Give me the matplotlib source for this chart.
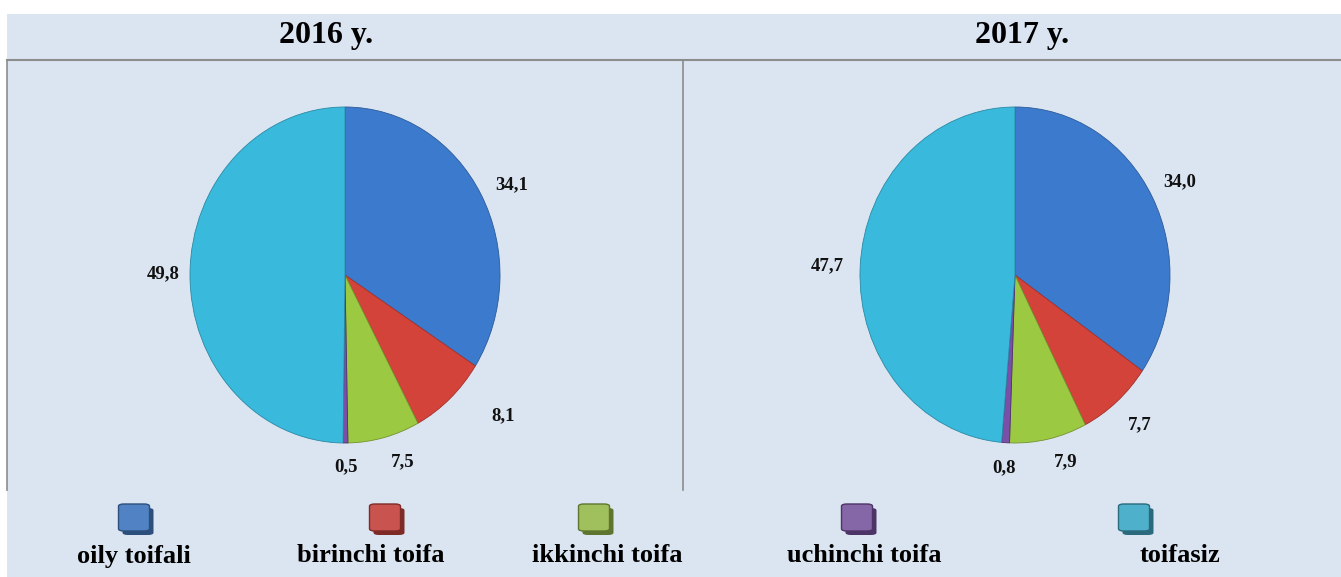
import matplotlib.pyplot as plt
import numpy as np
from matplotlib.patches import Rectangle, FancyBboxPatch
from matplotlib.lines import Line2D

plt.rcParams['font.family'] = ['Liberation Serif', 'DejaVu Serif']
plt.rcParams['font.weight'] = 'bold'

categories = ['oily toifali', 'birinchi toifa', 'ikkinchi toifa', 'uchinchi toifa', 'toifasiz']
years = ['2016 y.', '2017 y.']
values_2016 = [34.1, 8.1, 7.5, 0.5, 49.8]
values_2017 = [34.0, 7.7, 7.9, 0.8, 47.7]

# styles
colors = ['#3c7acd', '#d3433a', '#9cc942', '#7a4fa8', '#39b9dc']
edge_colors = ['#2c5a98', '#a3322b', '#73922f', '#503070', '#2a8aa5']
leg_colors = ['#5183c4', '#c9534f', '#a0c05e', '#8566a6', '#4fb0cb']
leg_shadow = ['#2d4f7c', '#7e2b28', '#5e7530', '#4d3466', '#2a6a7c']
label_r = {0: [1.2, 1.32, 1.17, 1.14, 1.17], 1: [1.2, 1.2, 1.16, 1.15, 1.21]}
label_da = {0: [-2, 8, 4, 0, 0], 1: [0, 1, 4, 0, 0]}

W, H = 1341, 577
fig = plt.figure(figsize=(W / 100, H / 100), dpi=100)
fig.patch.set_facecolor('white')

bg = '#dbe5f1'
fig.add_artist(Rectangle((7 / W, 0), (W - 7) / W, (H - 14) / H, transform=fig.transFigure,
                         facecolor=bg, edgecolor='none', zorder=0))
grid = '#8c8c8c'
fig.add_artist(Line2D([7 / W, 1], [1 - 60 / H, 1 - 60 / H], transform=fig.transFigure, color=grid, lw=1.5))
for xp in (7, 683):
    fig.add_artist(Line2D([xp / W, xp / W], [1 - 60 / H, 1 - 490 / H], transform=fig.transFigure,
                          color=grid, lw=1.2))


def fmt(v):
    return f'{v:.1f}'.replace('.', ',')


for i, (cx, tx, year, vals) in enumerate([(345, 326, years[0], values_2016),
                                          (1015, 1022, years[1], values_2017)]):
    rx, ry = 155, 168
    ax = fig.add_axes([(cx - rx) / W, (H - 275 - ry) / H, 2 * rx / W, 2 * ry / H])
    wedges, _ = ax.pie(vals, colors=colors, startangle=90, counterclock=False,
                       wedgeprops=dict(linewidth=0.6))
    for w, ec, r, da, v in zip(wedges, edge_colors, label_r[i], label_da[i], vals):
        w.set_edgecolor(ec)
        ang = np.deg2rad((w.theta1 + w.theta2) / 2 + da)
        ax.text(r * np.cos(ang), r * np.sin(ang), fmt(v), ha='center', va='center',
                fontsize=13.5, fontweight='bold', color='#111111')
    ax.set_aspect('auto')
    ax.set_xlim(-1, 1)
    ax.set_ylim(-1, 1)
    ax.axis('off')
    fig.text(tx / W, 1 - 35 / H, year, ha='center', va='center', fontsize=23, fontweight='bold')

# legend row
sq_x = [134, 385, 594, 857, 1134]
txt_x = [134, 371, 607, 864, 1180]
for sx, tx, c, sc, name in zip(sq_x, txt_x, leg_colors, leg_shadow, categories):
    sw, sh = 31, 27
    x0, y0 = sx - sw / 2, H - 531
    fig.add_artist(FancyBboxPatch(((x0 + 4) / W, (y0 - 4) / H), sw / W, sh / H,
                                  boxstyle='round,pad=0,rounding_size=0.004',
                                  transform=fig.transFigure, facecolor=sc, edgecolor='none'))
    fig.add_artist(FancyBboxPatch((x0 / W, y0 / H), sw / W, sh / H,
                                  boxstyle='round,pad=0,rounding_size=0.004',
                                  transform=fig.transFigure, facecolor=c, edgecolor=sc, lw=1))
    fig.text(tx / W, 1 - 556 / H, name, ha='center', va='center', fontsize=19, fontweight='bold')

plt.savefig('out.png', dpi=100, facecolor=fig.get_facecolor())
